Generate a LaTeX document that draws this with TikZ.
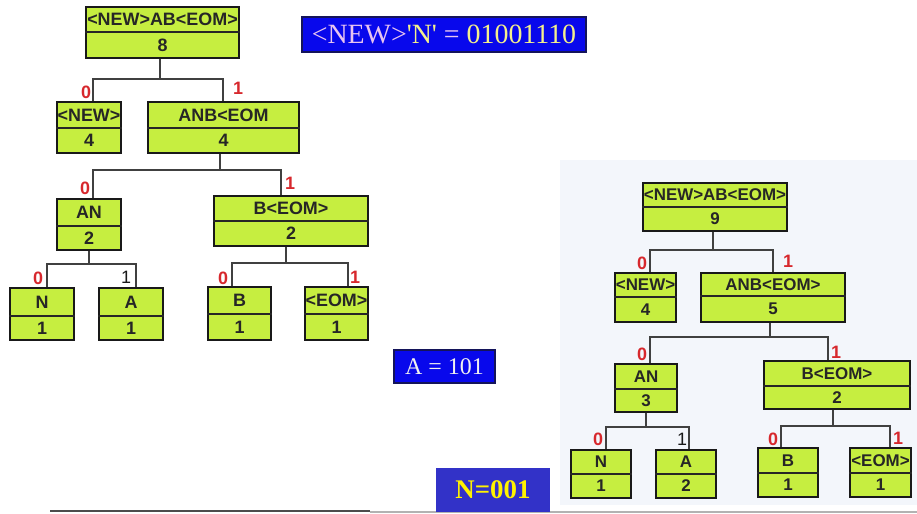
\documentclass[tikz,border=0pt]{standalone}
\usepackage{fontspec}
\setmainfont{Liberation Serif}
\newfontfamily\boxfont{Liberation Sans}
\usetikzlibrary{fit,calc}
\definecolor{boxg}{RGB}{198,238,64}
\definecolor{bitred}{RGB}{215,40,45}
\definecolor{bluebox}{RGB}{8,8,236}
\definecolor{bluebox2}{RGB}{50,50,200}
\definecolor{navy}{RGB}{20,20,90}
\definecolor{pinkt}{RGB}{232,196,240}
\definecolor{yelt}{RGB}{244,240,140}
\definecolor{panel}{RGB}{243,246,251}
\tikzset{
  hbox/.style={draw=black!90, line width=1.4bp, fill=boxg, inner sep=0pt},
  hdiv/.style={draw=black!85, line width=1.2bp},
  htxtL/.style={font=\boxfont\bfseries\fontsize{18}{18}\selectfont, inner sep=0pt, text=black!85},
  htxtR/.style={font=\boxfont\bfseries\fontsize{17}{17}\selectfont, inner sep=0pt, text=black!85},
  link/.style={draw=black!75, line width=1.3bp},
  bitr/.style={font=\boxfont\bfseries\fontsize{18}{18}\selectfont, text=bitred, inner sep=0pt},
  bitk/.style={font=\boxfont\fontsize{18}{18}\selectfont, text=black!90, inner sep=0pt},
  codebox/.style={draw=navy, line width=1.2bp, fill=bluebox, inner sep=0pt},
}
\newcommand\hnode[9]{%
  \node[hbox, fit={(#2,#3) (#4,#5)}] (#1) {};
  \draw[hdiv] (#1.west |- 0,#6) -- (#1.east |- 0,#6);
  \node[#9] (#1-l) at ({(#2+#4)/2},{(#3+#6)/2}) {#7};
  \node[#9] (#1-c) at ({(#2+#4)/2},{(#6+#5)/2}) {#8};
}
% parent, trunk x, bar y, child, drop x
\newcommand\conn[5]{%
  \draw[link] (#1.south -| #2,0) -- (#2,#3) -| (#4.north -| #5,0);
}
\begin{document}
\begin{tikzpicture}[x=1bp,y=-1bp]
\useasboundingbox (0,0) rectangle (917,514);
\fill[white] (0,0) rectangle (917,514);
\fill[panel] (560,160) rectangle (917,505);

% bottom rule
\draw[draw=black!70, line width=1.5bp] (50,511) -- (370,511);
\draw[draw=black!30, line width=1.5bp] (370,512) -- (917,512);

% ---------- left tree ----------
\hnode{rootL}{86}{7}{239}{58}{32}{<NEW>AB<EOM>}{8}{htxtL}
\hnode{newL}{57}{102}{121}{153}{128}{<NEW>}{4}{htxtL}
\hnode{anbL}{148}{102}{299}{153}{128}{ANB<EOM}{4}{htxtL}
\hnode{anL}{57}{199}{121}{250}{226}{AN}{2}{htxtL}
\hnode{beL}{214}{196}{368}{246}{221}{B<EOM>}{2}{htxtL}
\hnode{nL}{10}{288}{74}{340}{316}{N}{1}{htxtL}
\hnode{aL}{99}{288}{163}{340}{316}{A}{1}{htxtL}
\hnode{bL}{208}{287}{271}{340}{314}{B}{1}{htxtL}
\hnode{eL}{305}{287}{368}{340}{314}{<EOM>}{1}{htxtL}

\conn{rootL}{160}{79}{newL}{93}
\conn{rootL}{160}{79}{anbL}{223}
\conn{anbL}{220}{170}{anL}{93}
\conn{anbL}{220}{170}{beL}{281}
\conn{anL}{89}{264}{nL}{47}
\conn{anL}{89}{264}{aL}{136}
\conn{beL}{286}{263}{bL}{232}
\conn{beL}{286}{263}{eL}{348}

\node[bitr] (bl1) at (86,92) {0};
\node[bitr] (bl2) at (238,88) {1};
\node[bitr] (bl3) at (85,188) {0};
\node[bitr] (bl4) at (290,183) {1};
\node[bitr] (bl5) at (38,278) {0};
\node[bitk] (bl6) at (126,277) {1};
\node[bitr] (bl7) at (223,278) {0};
\node[bitr] (bl8) at (355,277) {1};

% ---------- right tree ----------
\hnode{rootR}{643}{183}{787}{231}{207}{<NEW>AB<EOM>}{9}{htxtR}
\hnode{newR}{615}{273}{676}{322}{297}{<NEW>}{4}{htxtR}
\hnode{anbR}{701}{273}{845}{322}{296}{ANB<EOM>}{5}{htxtR}
\hnode{anR}{615}{364}{677}{412}{389}{AN}{3}{htxtR}
\hnode{beR}{764}{361}{910}{409}{386}{B<EOM>}{2}{htxtR}
\hnode{nR}{571}{450}{631}{498}{474}{N}{1}{htxtR}
\hnode{aR}{656}{450}{716}{498}{474}{A}{2}{htxtR}
\hnode{bR}{758}{448}{818}{497}{473}{B}{1}{htxtR}
\hnode{eR}{850}{448}{911}{497}{473}{<EOM>}{1}{htxtR}

\conn{rootR}{713}{250}{newR}{650}
\conn{rootR}{713}{250}{anbR}{773}
\conn{anbR}{770}{337}{anR}{650}
\conn{anbR}{770}{337}{beR}{828}
\conn{anR}{646}{427}{nR}{606}
\conn{anR}{646}{427}{aR}{689}
\conn{beR}{833}{426}{bR}{781}
\conn{beR}{833}{426}{eR}{890}

\node[bitr] (br1) at (642,263) {0};
\node[bitr] (br2) at (788,261) {1};
\node[bitr] (br3) at (642,354) {0};
\node[bitr] (br4) at (836,352) {1};
\node[bitr] (br5) at (598,439) {0};
\node[bitk] (br6) at (682,439) {1};
\node[bitr] (br7) at (773,439) {0};
\node[bitr] (br8) at (898,438) {1};

% ---------- code boxes ----------
\node[codebox, fit={(302,17) (586,52)}] (codeNEW) {};
\node[font=\fontsize{28}{28}\selectfont, inner sep=0pt] (codeNEWt) at (codeNEW.center)
  {\textcolor{pinkt}{<NEW>}\textcolor{yelt}{\textquotesingle N\textquotesingle}\textcolor{pinkt}{\ =\ }\textcolor{yelt}{01001110}};

\node[codebox, fit={(394,350) (495,383)}] (codeA) {};
\node[font=\fontsize{24}{24}\selectfont, text=white!94!black, inner sep=0pt] (codeAt) at (codeA.center) {A = 101};

\node[fill=bluebox2, inner sep=0pt, fit={(436,468) (550,512)}] (codeN) {};
\node[font=\bfseries\fontsize{27}{27}\selectfont, text=yellow, inner sep=0pt] (codeNt) at (codeN.center) {N=001};
\end{tikzpicture}
\end{document}
